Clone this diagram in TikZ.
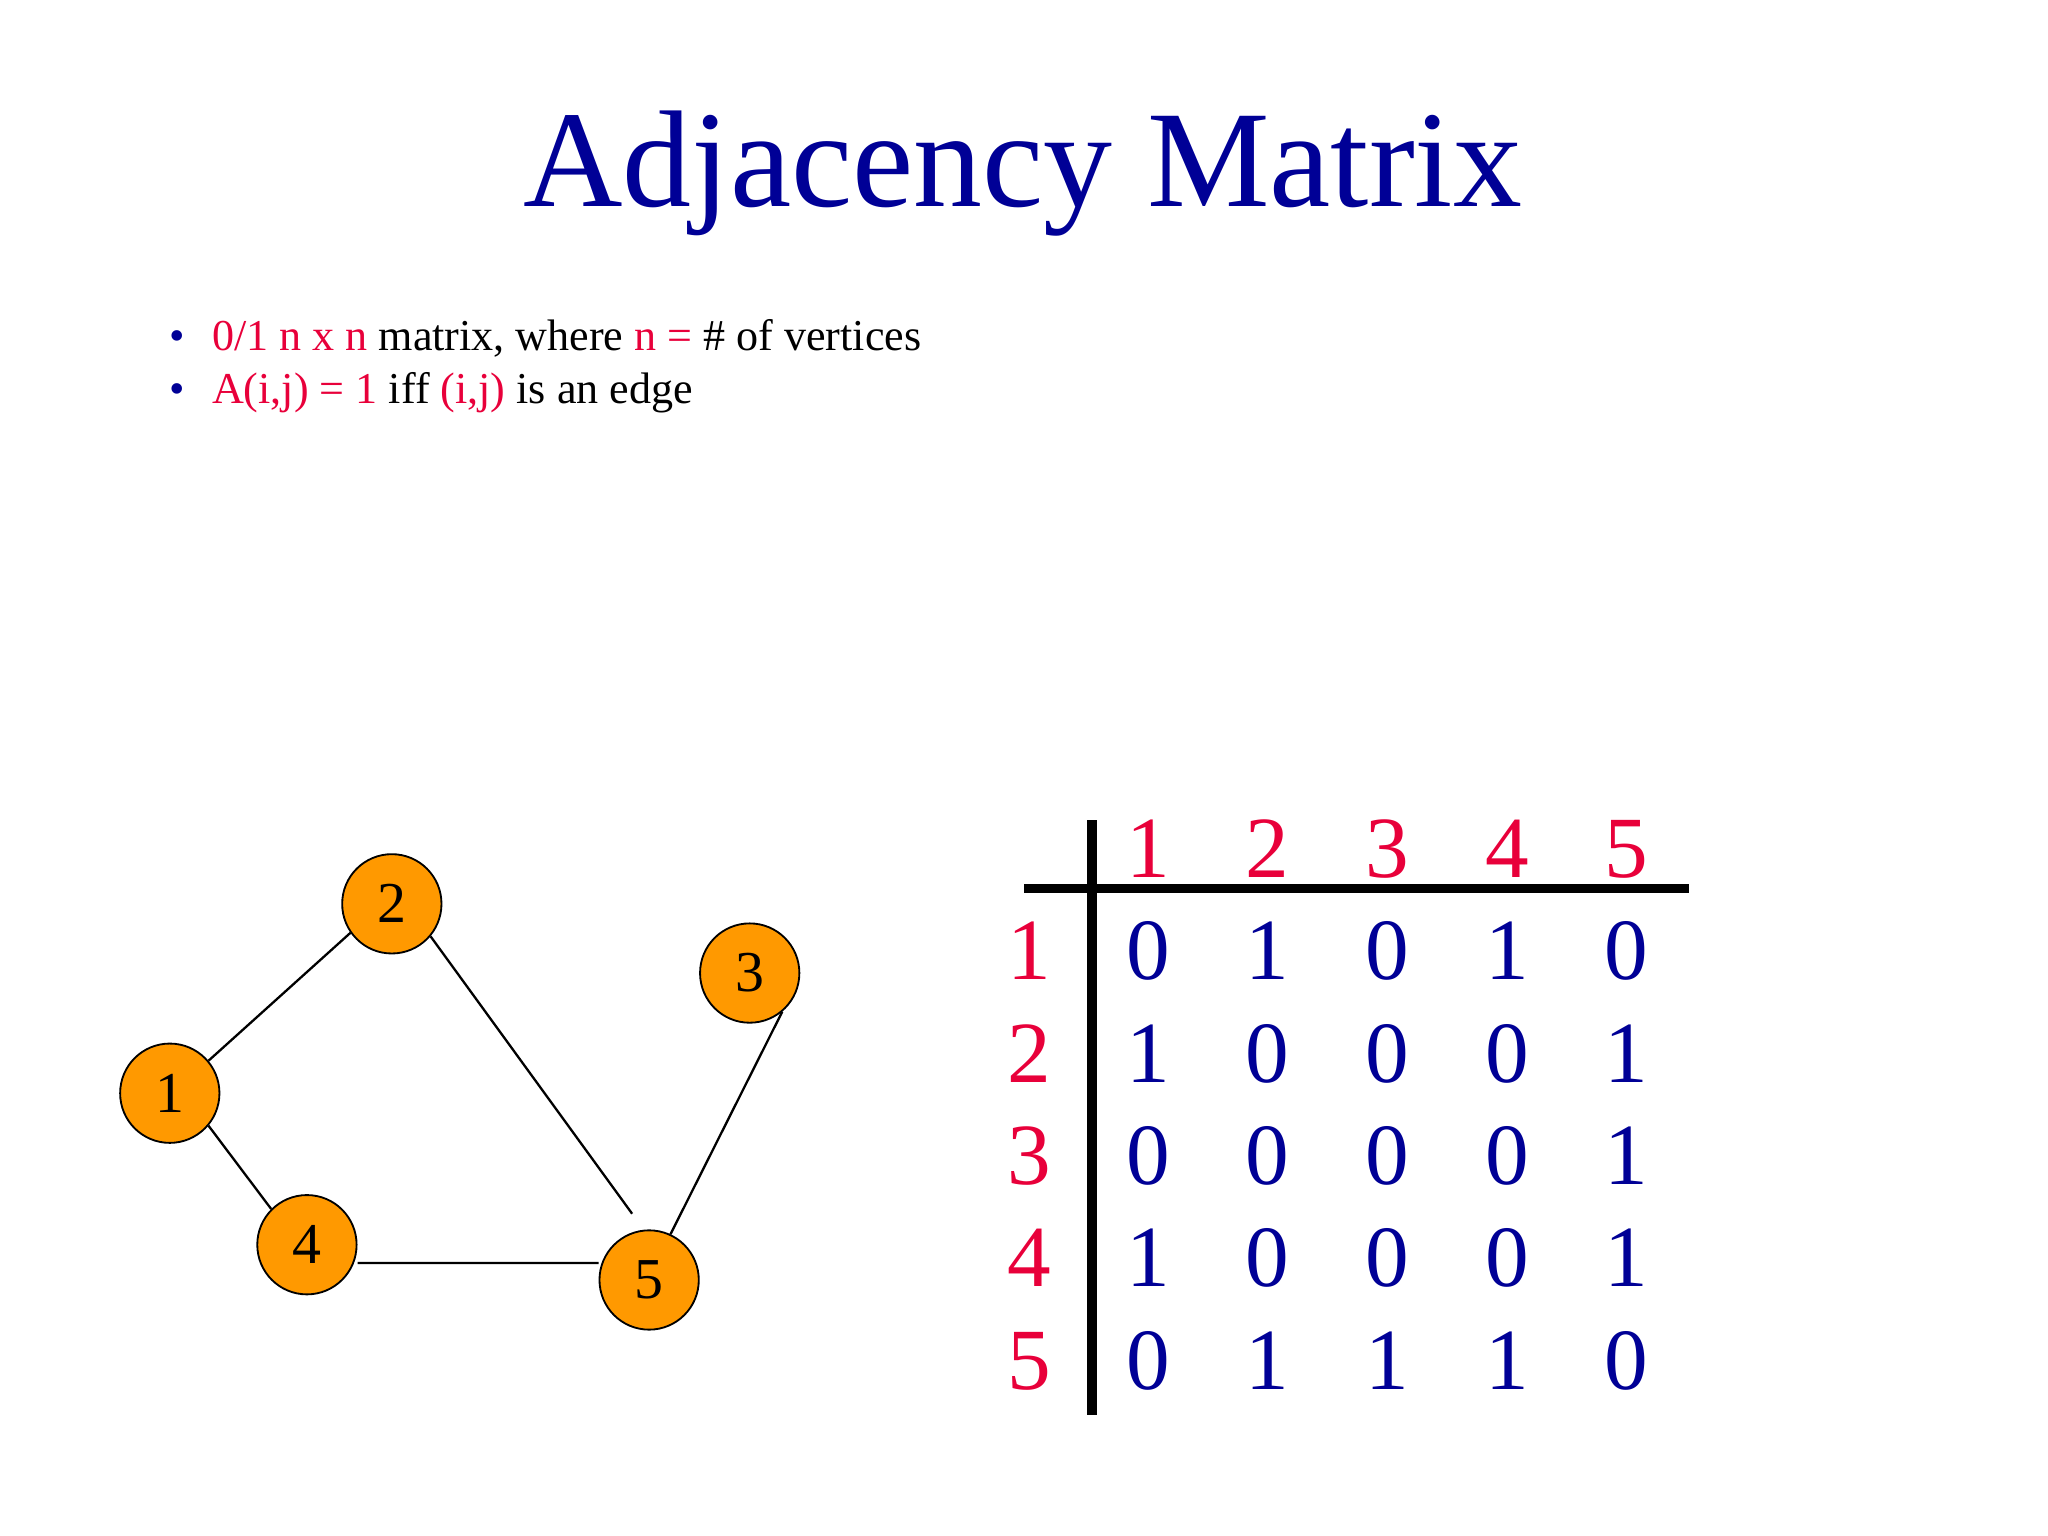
\documentclass[tikz,border=0pt]{standalone}
\usepackage{fontspec}
\setmainfont{Liberation Serif}
\definecolor{navy}{RGB}{0,0,150}
\definecolor{hred}{RGB}{232,0,58}
\definecolor{vorange}{RGB}{255,153,0}
\begin{document}
\begin{tikzpicture}[x=0.01cm,y=-0.01cm,
  vert/.style={circle,draw=black,fill=vorange,minimum size=0.76cm,inner sep=0pt,font=\fontsize{12.6}{14}\selectfont},
  edge/.style={black,line width=0.5pt},
  dig/.style={font=\fontsize{19}{22}\selectfont,text=navy},
  hdr/.style={font=\fontsize{19}{22}\selectfont,text=hred},
  bul/.style={anchor=base west,font=\fontsize{9.6}{12}\selectfont}]
\useasboundingbox (0,0) rectangle (1568,1176);
\node[font=\fontsize{30}{34}\selectfont,text=navy] (title) at (783,133) {Adjacency Matrix};
\node[bul,text=navy] (b1) at (117,268) {•};
\node[bul] (t1) at (150,268) {\textcolor{hred}{0/1 n x n} matrix, where \textcolor{hred}{n =} \# of vertices};
\node[bul,text=navy] (b2) at (117,309) {•};
\node[bul] (t2) at (150,309) {\textcolor{hred}{A(i,j) = 1} iff \textcolor{hred}{(i,j)} is an edge};
% graph
\node[vert] (n1) at (130,837) {\raisebox{-0.12cm}{1}};
\node[vert] (n2) at (300,692) {\raisebox{-0.12cm}{2}};
\node[vert] (n3) at (574,745) {3};
\node[vert] (n4) at (235,953) {4};
\node[vert] (n5) at (497,980) {\raisebox{-0.14cm}{5}};
\draw[edge] (n1.40) -- (n2.215);
\draw[edge] (n1.-40) -- (n4.135);
\draw[edge] (n2.-40) -- ([xshift=-0.13cm,yshift=0.12cm]n5.north);
\draw[edge] ([yshift=-0.14cm]n4.east) -- ([yshift=0.13cm]n5.west);
\draw[edge] (n3.-50) -- (n5.65);
% matrix
\coordinate (vt) at (836,628); \coordinate (vb) at (836,1083);
\coordinate (hl) at (784,680); \coordinate (hr) at (1293,680);
\draw[line width=2pt] (vt) -- (vb);
\draw[line width=2pt] (hl) -- (hr);
\foreach \c [count=\i] in {879,970,1062,1154,1245}
  \node[hdr] (h\i) at (\c,650) {\i};
\foreach \r [count=\i] in {728,807,885,963,1042}
  \node[hdr] (r\i) at (788,\r) {\i};
\foreach \row [count=\i] in {{0,1,0,1,0},{1,0,0,0,1},{0,0,0,0,1},{1,0,0,0,1},{0,1,1,1,0}}{
  \foreach \v [count=\j] in \row {
    \pgfmathsetmacro{\xx}{{879,970,1062,1154,1245}[\j-1]}
    \pgfmathsetmacro{\yy}{{728,807,885,963,1042}[\i-1]}
    \node[dig] (m\i\j) at (\xx,\yy) {\v};
  }}
\end{tikzpicture}
\end{document}
